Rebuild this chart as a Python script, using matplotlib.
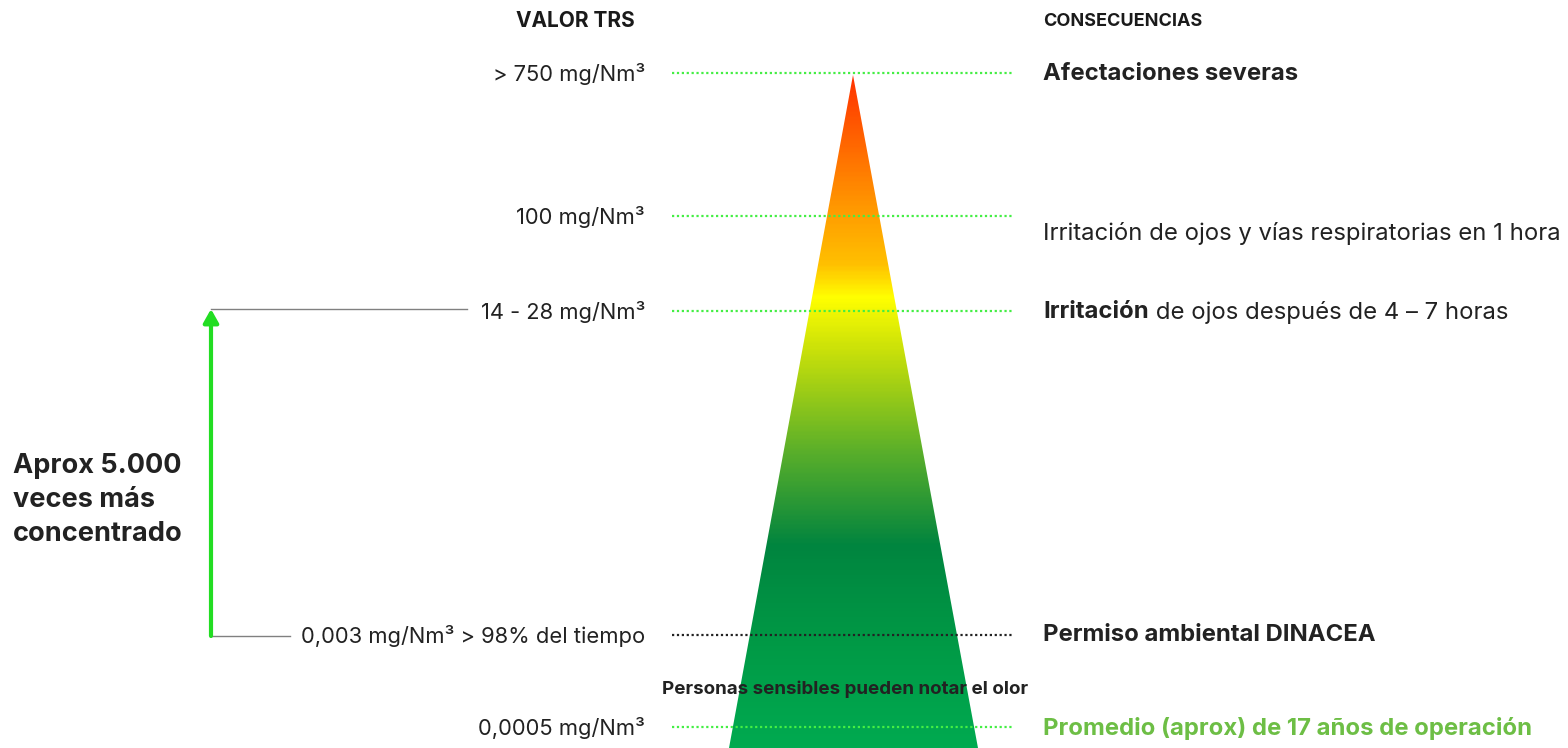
import numpy as np
import matplotlib.pyplot as plt
from matplotlib.colors import LinearSegmentedColormap
from matplotlib.patches import Polygon

plt.rcParams['font.family'] = ['Inter', 'DejaVu Sans']

# Datos: niveles de TRS y sus consecuencias
valores_trs = ['> 750 mg/Nm³', '100 mg/Nm³', '14 - 28 mg/Nm³',
               '0,003 mg/Nm³ > 98% del tiempo', '0,0005 mg/Nm³']
consecuencias = ['Afectaciones severas',
                 'Irritación de ojos y vías respiratorias en 1 hora',
                 'Irritación',
                 'Permiso ambiental DINACEA',
                 'Promedio (aprox) de 17 años de operación']
consecuencia_extra = ['', '', ' de ojos después de 4 – 7 horas', '', '']
nivel_y = [73, 216, 311, 635, 727]
texto_y = [74, 233, 312, 635, 728]
negrita = [True, False, True, True, True]
nota_olor = 'Personas sensibles pueden notar el olor'
nota_veces = 'Aprox 5.000\nveces más\nconcentrado'

fig = plt.figure(figsize=(15.68, 7.48), dpi=100)
ax = fig.add_axes([0, 0, 1, 1])
ax.set_xlim(0, 1568)
ax.set_ylim(748, 0)
ax.axis('off')

# Triángulo con degradado
apex = (853, 75)
base_y = 748
tri = Polygon([apex, (729, base_y), (978, base_y)], closed=True,
              facecolor='none', edgecolor='none')
ax.add_patch(tri)
cmap = LinearSegmentedColormap.from_list('trs', [
    (0.0, '#ff3300'), (0.21, '#ffa000'), (0.28, '#ffc000'), (0.33, '#ffff00'),
    (0.41, '#c8e00a'), (0.56, '#5aaf2a'), (0.68, '#0e8a3c'), (0.70, '#00853f'),
    (0.85, '#009a46'), (1.0, '#00aa50')])
grad = np.linspace(0, 1, 400).reshape(-1, 1)
img = ax.imshow(grad, cmap=cmap, extent=(720, 990, base_y, apex[1]),
                aspect='auto', zorder=1, interpolation='bilinear')
img.set_clip_path(tri)

# Líneas punteadas
for i, y in enumerate(nivel_y):
    color = '#222222' if i == 3 else '#44ee44'
    ax.plot([672, 1012], [y, y], linestyle=(0, (1, 1.2)), color=color,
            lw=1.6, zorder=2)

# Encabezados
ax.text(575, 21, 'VALOR TRS', fontsize=15, fontweight='bold',
        ha='center', va='center', color='#1a1a1a')
ax.text(1043, 21, 'CONSECUENCIAS', fontsize=13, fontweight='bold',
        ha='left', va='center', color='#1a1a1a')

# Etiquetas de valores
for lab, y in zip(valores_trs, nivel_y):
    ax.text(645, y + 1, lab, fontsize=15.8, ha='right', va='center',
            color='#222222')

# Consecuencias
for i, (lab, extra, y, b) in enumerate(zip(consecuencias, consecuencia_extra,
                                           texto_y, negrita)):
    color = '#6dbe45' if i == 4 else '#222222'
    t = ax.text(1043, y, lab, fontsize=17.2, ha='left', va='center',
                fontweight='bold' if b else 'normal', color=color)
    if extra:
        ax.annotate(extra, xy=(1, 0.5), xycoords=t, fontsize=17.2,
                    ha='left', va='center', color=color)

ax.text(845, 689, nota_olor, fontsize=13.5, fontweight='bold',
        ha='center', va='center', color='#222222', zorder=3)

# Flecha y líneas grises
ax.plot([211, 467], [309, 309], color='#808080', lw=1)
ax.plot([211, 290], [636, 636], color='#808080', lw=1)
ax.annotate('', xy=(211, 309), xytext=(211, 636),
            arrowprops=dict(arrowstyle='-|>,head_length=0.8,head_width=0.45',
                            color='#22dd22', lw=3, shrinkA=0, shrinkB=0))

ax.text(13, 500, nota_veces, fontsize=19.5, fontweight='bold',
        ha='left', va='center', color='#222222', linespacing=1.42)

fig.savefig('out.png', dpi=100)
